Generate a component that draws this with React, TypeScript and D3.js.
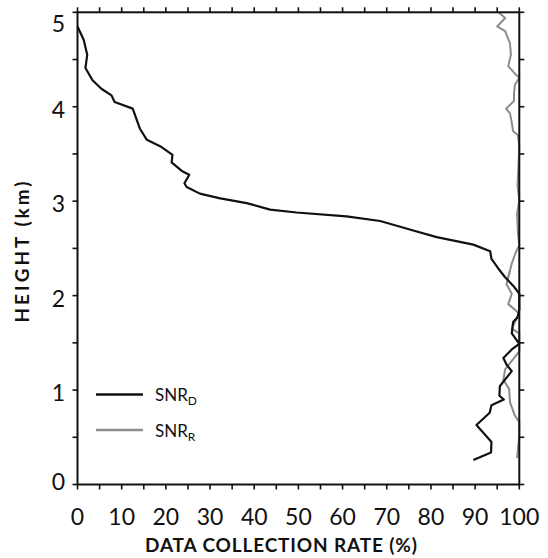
import React from "react";
import * as d3 from "d3";

// SNR_D (black): rate %, height km
const snrDRate = [0, 1.4, 2.2, 1.8, 3.4, 5.4, 7.7, 8.4, 12.5, 14.1, 15.7, 18.8, 21.5, 21.3, 23.6, 25.3, 24.2, 24.7, 27.7, 32.3, 38.3, 43.6, 49.6, 60.9, 68.5, 76, 81.3, 89.6, 93.4, 93.7, 95.2, 96.7, 98.7, 100, 100, 99.6, 98.6, 98.3, 100, 98.3, 96.4, 97.1, 98.3, 96.4, 95.6, 95.5, 96.5, 93.7, 93.3, 90.3, 91.8, 93.7, 93.6, 89.6];
const snrDHeight = [4.85, 4.71, 4.55, 4.41, 4.28, 4.19, 4.12, 4.05, 3.98, 3.77, 3.65, 3.58, 3.49, 3.41, 3.32, 3.28, 3.19, 3.15, 3.08, 3.03, 2.98, 2.91, 2.88, 2.84, 2.79, 2.69, 2.62, 2.54, 2.47, 2.39, 2.29, 2.2, 2.1, 2.02, 1.85, 1.77, 1.72, 1.6, 1.49, 1.43, 1.34, 1.27, 1.2, 1.09, 1.04, 0.94, 0.9, 0.84, 0.76, 0.63, 0.55, 0.45, 0.34, 0.26];

// SNR_R (gray)
const snrRRate = [95.3, 96.8, 95, 96.8, 97.9, 98.1, 97.5, 99, 100, 99, 98.8, 98.8, 97, 97.9, 98.3, 98.6, 99.7, 100, 99.6, 100, 99.5, 99.7, 100, 99.3, 98.6, 98.3, 97.9, 97.5, 97.9, 97.1, 98.3, 97.5, 100, 98.3, 100, 100, 96.8, 96.4, 97.7, 97.9, 99, 100, 100, 99.5];
const snrRHeight = [5.0, 4.94, 4.85, 4.8, 4.67, 4.55, 4.43, 4.35, 4.31, 4.23, 4.14, 4.06, 3.98, 3.93, 3.83, 3.74, 3.7, 3.58, 3.16, 3.01, 2.87, 2.66, 2.53, 2.47, 2.38, 2.34, 2.27, 2.2, 2.26, 2.12, 2.02, 1.91, 1.81, 1.65, 1.6, 1.41, 1.22, 1.11, 1.01, 0.87, 0.73, 0.66, 0.52, 0.28];

const xTickLabels = [0, 10, 20, 30, 40, 50, 60, 70, 80, 90, 100];
const yTickLabels = [0, 1, 2, 3, 4, 5];

const W = 548, H = 558;
const L = 77.5, R = 519.3, T = 12.3, B = 484.5;
const FONT = "Lato, 'DejaVu Sans', sans-serif";

export default function App() {
  const x = d3.scaleLinear().domain([0, 100]).range([L, R]);
  const y = d3.scaleLinear().domain([0, 5]).range([B, T]);
  const line = d3.line<[number, number]>().x(d => x(d[0])).y(d => y(d[1])).curve(d3.curveLinear);
  const dPts = snrDRate.map((r, i) => [r, snrDHeight[i]] as [number, number]);
  const rPts = snrRRate.map((r, i) => [r, snrRHeight[i]] as [number, number]);
  const xMinor = d3.range(0, 101, 5);
  const yMinor = d3.range(0, 5.01, 0.5);
  const tk = 5;
  const yLabelOffset = (v: number) => (v === 5 ? 11 : v === 0 ? -4 : 2);

  return (
    <svg width={W} height={H} style={{ position: "absolute", left: 0, top: 0, background: "#fff" }}>
      <defs>
        <clipPath id="clip"><rect x={L - 2} y={T - 2} width={R - L + 4} height={B - T + 4} /></clipPath>
      </defs>
      <g clipPath="url(#clip)">
        <path d={line(rPts) || ""} fill="none" stroke="#8c8c8c" strokeWidth={2} strokeLinejoin="round" />
        <path d={line(dPts) || ""} fill="none" stroke="#111" strokeWidth={2.2} strokeLinejoin="round" />
      </g>
      <rect x={L} y={T} width={R - L} height={B - T} fill="none" stroke="#111" strokeWidth={2} />
      {xMinor.map(v => (
        <g key={"xt" + v}>
          <line x1={x(v)} x2={x(v)} y1={B} y2={B + tk} stroke="#111" strokeWidth={1.6} />
          <line x1={x(v)} x2={x(v)} y1={T} y2={T - tk} stroke="#111" strokeWidth={1.6} />
        </g>
      ))}
      {yMinor.map(v => (
        <g key={"yt" + v}>
          <line x1={L} x2={L - tk} y1={y(v)} y2={y(v)} stroke="#111" strokeWidth={1.6} />
          <line x1={R} x2={R + tk} y1={y(v)} y2={y(v)} stroke="#111" strokeWidth={1.6} />
        </g>
      ))}
      {xTickLabels.map(v => (
        <text key={"xl" + v} x={x(v)} y={525} textAnchor="middle" fontFamily={FONT} fontSize={23} fill="#111">{v}</text>
      ))}
      {yTickLabels.map(v => (
        <text key={"yl" + v} x={65} y={y(v) + yLabelOffset(v)} textAnchor="end" dominantBaseline="central" fontFamily={FONT} fontSize={23} fill="#111">{v}</text>
      ))}
      <text x={281} y={552} textAnchor="middle" fontFamily={FONT} fontWeight="bold" fontSize={19} textLength={272} lengthAdjust="spacing" fill="#111">DATA COLLECTION RATE (%)</text>
      <text transform={`translate(29,252) rotate(-90)`} textAnchor="middle" fontFamily={FONT} fontWeight="bold" fontSize={19} textLength={141} lengthAdjust="spacing" fill="#111">HEIGHT  (km)</text>
      <line x1={96} x2={143} y1={394.5} y2={394.5} stroke="#111" strokeWidth={2.5} />
      <text x={155} y={401} fontFamily={FONT} fontSize={17} fill="#111">SNR<tspan fontSize={12} dy={4}>D</tspan></text>
      <line x1={96} x2={143} y1={430} y2={430} stroke="#8c8c8c" strokeWidth={2.5} />
      <text x={155} y={437} fontFamily={FONT} fontSize={17} fill="#111">SNR<tspan fontSize={12} dy={4}>R</tspan></text>
    </svg>
  );
}
